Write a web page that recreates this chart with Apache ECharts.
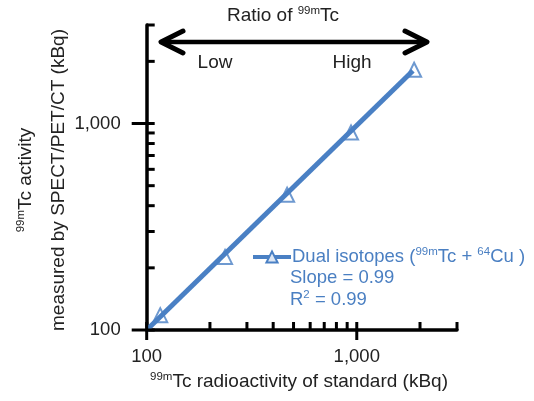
<!DOCTYPE html>
<html>
<head>
<meta charset="utf-8">
<script src="https://cdn.jsdelivr.net/npm/echarts@6/dist/echarts.min.js"></script>
<style>
  html, body { margin: 0; padding: 0; background: #fff; }
  #main { width: 534px; height: 401px; }
</style>
</head>
<body>
<div id="main"></div>
<script>
// standard vs measured 99mTc activity (kBq), log-log
const standardKBq = [116, 236, 466, 939, 1875];
const measuredKBq = [118, 226, 452, 904, 1820];
// regression line end points
const fitX = [100, 1850];
const fitY = [100, 1800];
const majorTicks = [100, 1000];
const majorTickLabels = ['100', '1,000'];
const minorTicks = [200, 300, 400, 500, 600, 700, 800, 900, 2000, 3000];
const seriesName = 'Dual isotopes';
const statLines = ['Slope = 0.99', '{a|R}{s|2}{a| = 0.99}'];

const FONT = '"Liberation Sans", Arial, sans-serif';
const BLUE = '#4a80c4';
const TXT_BLUE = '#4a7fc2';

const points = standardKBq.map((v, i) => [v, measuredKBq[i]]);
const fitLine = fitX.map((v, i) => [v, fitY[i]]);

// tick marks: [x, y, axis(0=x,1=y), major]
const tickItems = [];
majorTicks.forEach(v => { tickItems.push([v, 100, 0, 1]); tickItems.push([100, v, 1, 1]); });
minorTicks.forEach(v => { tickItems.push([v, 100, 0, 0]); tickItems.push([100, v, 1, 0]); });

function tickLabel(v) {
  const i = majorTicks.indexOf(Math.round(v));
  return i >= 0 ? majorTickLabels[i] : '';
}

const supRich = {
  a: { fontSize: 19, fontFamily: FONT, lineHeight: 22 },
  s: { fontSize: 11.5, fontFamily: FONT, verticalAlign: 'top', lineHeight: 22 }
};
const supRichBlue = {
  a: { fontSize: 18.5, fontFamily: FONT, lineHeight: 22, color: TXT_BLUE },
  s: { fontSize: 11.5, fontFamily: FONT, verticalAlign: 'top', lineHeight: 22, color: TXT_BLUE }
};

var chart = echarts.init(document.getElementById('main'));
var option = {
  animation: false,
  grid: { left: 146.7, right: 77, top: 25, bottom: 71 },
  xAxis: {
    type: 'log', min: 100, max: 3000, logBase: 10,
    axisLine: { lineStyle: { color: '#000', width: 3.5 } },
    axisTick: { show: false },
    splitLine: { show: false },
    axisLabel: { formatter: tickLabel, margin: 17, color: '#222', fontSize: 18.5, fontFamily: FONT }
  },
  yAxis: {
    type: 'log', min: 100, max: 3000, logBase: 10,
    axisLine: { lineStyle: { color: '#000', width: 3.5 } },
    axisTick: { show: false },
    splitLine: { show: false },
    axisLabel: { formatter: tickLabel, margin: 26, color: '#222', fontSize: 18.5, fontFamily: FONT }
  },
  legend: {
    data: [seriesName],
    left: 251, top: 246, padding: 0,
    itemWidth: 38, itemHeight: 14, itemGap: 0,
    lineStyle: { width: 4 },
    formatter: () => '{a|Dual isotopes (}{s|99m}{a|Tc + }{s|64}{a|Cu )}',
    textStyle: { color: TXT_BLUE, padding: [0, 0, 0, -4], rich: supRichBlue }
  },
  graphic: [
    {
      type: 'text', x: 283, y: 16,
      style: { text: '{a|Ratio of }{s|99m}{a|Tc}', rich: supRich, fill: '#222', align: 'center', verticalAlign: 'middle' }
    },
    {
      type: 'polyline',
      shape: { points: [[183, 31], [161, 42], [183, 53]] },
      style: { stroke: '#000', lineWidth: 5, fill: null, lineCap: 'round', lineJoin: 'round' }
    },
    {
      type: 'line',
      shape: { x1: 162, y1: 42, x2: 425, y2: 42 },
      style: { stroke: '#000', lineWidth: 4.5 }
    },
    {
      type: 'polyline',
      shape: { points: [[405, 31], [427, 42], [405, 53]] },
      style: { stroke: '#000', lineWidth: 5, fill: null, lineCap: 'round', lineJoin: 'round' }
    },
    {
      type: 'text', x: 215, y: 63,
      style: { text: 'Low', font: '19px ' + FONT, fill: '#222', align: 'center', verticalAlign: 'middle' }
    },
    {
      type: 'text', x: 352, y: 63,
      style: { text: 'High', font: '19px ' + FONT, fill: '#222', align: 'center', verticalAlign: 'middle' }
    },
    {
      type: 'text', x: 290, y: 278,
      style: { text: statLines[0], font: '18.5px ' + FONT, fill: TXT_BLUE, align: 'left', verticalAlign: 'middle' }
    },
    {
      type: 'text', x: 290, y: 300,
      style: { text: statLines[1], rich: supRichBlue, fill: TXT_BLUE, align: 'left', verticalAlign: 'middle' }
    },
    {
      type: 'text', x: 299, y: 382,
      style: { text: '{s|99m}{a|Tc radioactivity of standard (kBq)}', rich: supRich, fill: '#222', align: 'center', verticalAlign: 'middle' }
    },
    {
      type: 'text', x: 26, y: 180, rotation: Math.PI / 2,
      style: { text: '{s|99m}{a|Tc activity}', rich: supRich, fill: '#222', align: 'center', verticalAlign: 'middle' }
    },
    {
      type: 'text', x: 59, y: 180, rotation: Math.PI / 2,
      style: { text: 'measured by SPECT/PET/CT (kBq)', font: '19px ' + FONT, fill: '#222', align: 'center', verticalAlign: 'middle' }
    }
  ],
  series: [
    {
      name: seriesName,
      type: 'line',
      data: fitLine,
      symbol: 'triangle', symbolSize: 10, showSymbol: false,
      lineStyle: { color: BLUE, width: 5 },
      itemStyle: { color: '#dce6f4', borderColor: BLUE, borderWidth: 2 },
      z: 3
    },
    {
      type: 'scatter',
      data: points,
      symbol: 'triangle', symbolSize: [14, 14],
      itemStyle: { color: 'rgba(255,255,255,0)', borderColor: BLUE, borderWidth: 2 },
      z: 4
    },
    {
      type: 'custom',
      data: tickItems,
      silent: true,
      z: 5,
      renderItem: function (params, api) {
        const p = api.coord([api.value(0), api.value(1)]);
        const isY = api.value(2) === 1;
        const major = api.value(3) === 1;
        const inner = 8;
        const outer = major ? (isY ? 15 : 10) : 0;
        const shape = isY
          ? { x1: p[0] - outer, y1: p[1], x2: p[0] + inner, y2: p[1] }
          : { x1: p[0], y1: p[1] + outer, x2: p[0], y2: p[1] - inner };
        return { type: 'line', shape: shape, style: { stroke: '#000', lineWidth: 3 } };
      }
    }
  ]
};
chart.setOption(option);
</script>
</body>
</html>
